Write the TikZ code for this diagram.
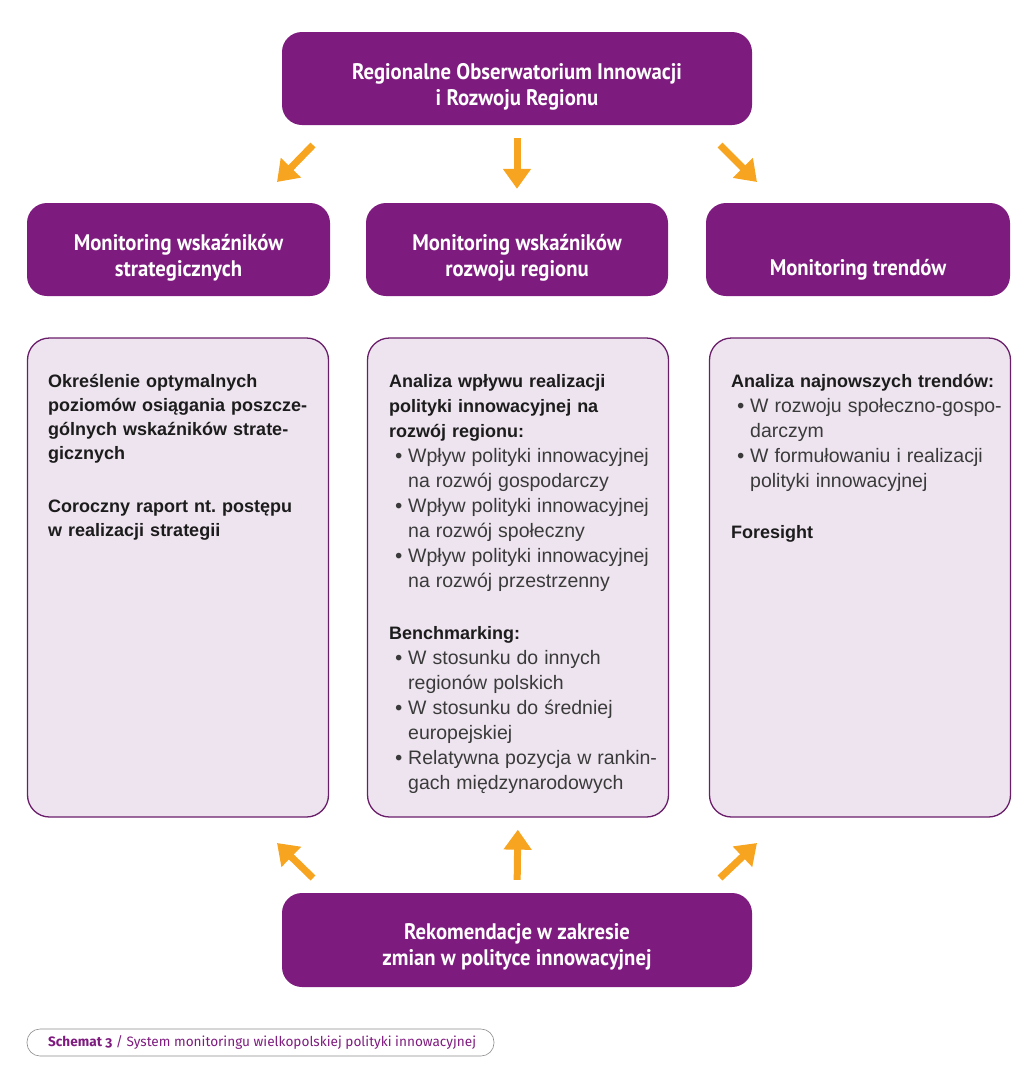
\documentclass[tikz,border=0pt]{standalone}
\usepackage{fontspec}
\setmainfont{Liberation Sans}
\newfontfamily\headfont{PT Sans}[FakeStretch=0.92]
\newfontfamily\capfont{Fira Sans}[Numbers=OldStyle]
\usetikzlibrary{arrows.meta}
\definecolor{rowPurple}{HTML}{7E1B7E}
\definecolor{rowLight}{HTML}{EEE4F0}
\definecolor{rowEdge}{HTML}{6A1E6A}
\definecolor{rowOrange}{HTML}{F7A521}
\definecolor{rowText}{HTML}{1C1C1C}
\definecolor{rowGrey}{HTML}{3A3A3A}
\newcommand{\bul}{\makebox[19pt][c]{\textcolor{rowGrey}{\fontsize{19.5}{25}\selectfont•}}}
\newcommand{\ind}{\hspace*{19pt}}
\newcommand{\reg}[1]{\textcolor{rowGrey}{\mdseries\fontsize{19.5}{25}\selectfont #1}}

\begin{document}
\begin{tikzpicture}[x=1pt,y=-1pt]
        \tikzstyle{every node}+=[inner sep=0pt]
        \tikzstyle{headbox}=[fill=rowPurple, rounded corners=20pt, minimum height=93pt]
        \tikzstyle{headtext}=[text=white, align=center, font=\headfont\bfseries\fontsize{22.5}{26}\selectfont]
        \tikzstyle{infobox}=[fill=rowLight, draw=rowEdge, line width=1.3pt, rounded corners=22pt,
          minimum width=301pt, minimum height=479pt]
        \tikzstyle{infotext}=[anchor=north west, text width=290pt, align=left, text=rowText,
          font=\bfseries\fontsize{18}{25}\selectfont]
        \tikzstyle{arr}=[rowOrange, line width=7pt, -{Triangle[width=27pt,length=20pt]}]
        \useasboundingbox (0,0) rectangle (1024,1071);
        \node [headbox, minimum width=470pt] (obs) at (517,78.5) {};
        \node [headtext, yshift=-8pt] (obsT) at (obs.center) {Regionalne Obserwatorium Innowacji\\i Rozwoju Regionu};
        \node [headbox, minimum width=303pt] (hstrat) at (178.5,249.5) {};
        \node [headtext, yshift=-8pt] (hstratT) at (hstrat.center) {Monitoring wskaźników\\strategicznych};
        \node [headbox, minimum width=302pt] (hreg) at (517,249.5) {};
        \node [headtext, yshift=-8pt] (hregT) at (hreg.center) {Monitoring wskaźników\\rozwoju regionu};
        \node [headbox, minimum width=304pt] (htrend) at (858,249.5) {};
        \node [headtext, yshift=-20pt] (htrendT) at (htrend.center) {Monitoring trendów};
        \node [infobox] (bstrat) at (178,577.5) {};
        \node [infobox] (breg) at (518,577.5) {};
        \node [infobox] (btrend) at (860,577.5) {};
        \node [infotext, font=\bfseries\fontsize{18}{24}\selectfont] (tstrat) at (48,374) {Określenie optymalnych\\poziomów osiągania poszcze-\\gólnych wskaźników strate-\\gicznych\\[29pt]Coroczny raport nt.\ postępu\\w realizacji strategii};
        \node [infotext] (treg) at (389,374) {Analiza wpływu realizacji\\polityki innowacyjnej na\\rozwój regionu:\\
          \bul\reg{Wpływ polityki innowacyjnej}\\\ind\reg{na rozwój gospodarczy}\\
          \bul\reg{Wpływ polityki innowacyjnej}\\\ind\reg{na rozwój społeczny}\\
          \bul\reg{Wpływ polityki innowacyjnej}\\\ind\reg{na rozwój przestrzenny}\\[27pt]
          Benchmarking:\\
          \bul\reg{W stosunku do innych}\\\ind\reg{regionów polskich}\\
          \bul\reg{W stosunku do średniej}\\\ind\reg{europejskiej}\\
          \bul\reg{Relatywna pozycja w rankin-}\\\ind\reg{gach międzynarodowych}};
        \node [infotext] (ttrend) at (731,374) {Analiza najnowszych trendów:\\
          \bul\reg{W rozwoju społeczno-gospo-}\\\ind\reg{darczym}\\
          \bul\reg{W formułowaniu i realizacji}\\\ind\reg{polityki innowacyjnej}\\[26pt]
          Foresight};
        \node [headbox, minimum width=470pt, minimum height=94pt] (rek) at (517,940) {};
        \node [headtext, yshift=-7pt] (rekT) at (rek.center) {Rekomendacje w zakresie\\zmian w polityce innowacyjnej};
        \node [draw=black!45, line width=0.6pt, rounded corners=13pt, minimum width=467pt, minimum height=27pt] (capbox) at (260.5,1042.5) {};
        \node [anchor=west, text=rowPurple, font=\capfont\fontsize{13.6}{16}\selectfont] (captxt) at (48,1042.5) {\textbf{Schemat 3} / System monitoringu wielkopolskiej polityki innowacyjnej};
        \coordinate (a1s) at (313,145);
        \coordinate (a1e) at (277,182);
        \coordinate (a3s) at (720,145);
        \coordinate (a3e) at (757,182);
        \coordinate (b1s) at (313,878);
        \coordinate (b1e) at (277,843);
        \coordinate (b3s) at (720,878);
        \coordinate (b3e) at (757,843);
        \draw [arr] (a1s) -- (a1e);
        \draw [arr, shorten <=13pt, shorten >=14pt] (obs.south) -- (hreg.north);
        \draw [arr] (a3s) -- (a3e);
        \draw [arr] (b1s) -- (b1e);
        \draw [arr, shorten <=13pt, shorten >=12pt] (rek.north) -- (breg.south);
        \draw [arr] (b3s) -- (b3e);
\end{tikzpicture}
\end{document}
